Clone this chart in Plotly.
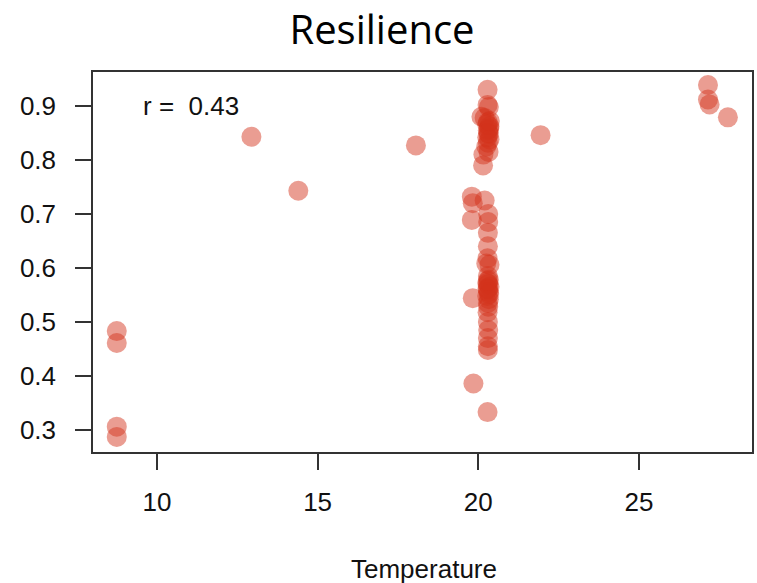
import plotly.graph_objects as go

# Data
temperature = [
    8.75, 8.75, 8.75, 8.75,
    12.94, 14.40, 18.06, 21.94,
    27.15, 27.15, 27.20, 27.77,
    20.29, 20.29, 20.33, 20.10, 20.20, 20.30, 20.35, 20.30, 20.33, 20.28, 20.35, 20.30, 20.25, 20.16, 20.32, 20.15,
    20.28, 20.34, 20.31, 20.36,
    19.80, 19.83, 20.20, 19.80, 20.31, 20.31, 20.30, 20.30, 20.29, 20.25, 20.35,
    19.83, 20.30, 20.33, 20.28, 20.35, 20.30, 20.32, 20.28, 20.33, 20.30, 20.31, 20.29, 20.30, 20.31, 20.30, 20.30, 20.30,
    20.31, 20.29, 20.34, 20.30,
    19.85, 20.29,
]
resilience = [
    0.483, 0.461, 0.306, 0.287,
    0.843, 0.743, 0.827, 0.846,
    0.939, 0.912, 0.903, 0.879,
    0.930, 0.902, 0.898, 0.880, 0.878, 0.870, 0.862, 0.855, 0.848, 0.842, 0.838, 0.832, 0.825, 0.810, 0.815, 0.790,
    0.866, 0.858, 0.850, 0.872,
    0.732, 0.720, 0.725, 0.689, 0.700, 0.685, 0.665, 0.640, 0.618, 0.608, 0.606,
    0.544, 0.585, 0.578, 0.572, 0.565, 0.560, 0.555, 0.548, 0.542, 0.535, 0.528, 0.518, 0.500, 0.485, 0.470, 0.455, 0.448,
    0.570, 0.562, 0.552, 0.576,
    0.386, 0.333,
]
x_ticks = [10, 15, 20, 25]
y_ticks = [0.3, 0.4, 0.5, 0.6, 0.7, 0.8, 0.9]
r_label = "r =\u00a0\u00a00.43"

W, H = 757, 583
ml, mr, mt, mb = 93, 3, 72, 131

fig = go.Figure()
fig.add_trace(go.Scatter(
    x=temperature, y=resilience, mode="markers",
    marker=dict(size=20, color="rgba(212,50,28,0.48)", line=dict(width=0)),
    showlegend=False, hoverinfo="skip",
))

axis_font = dict(family="Liberation Sans, Arial, sans-serif", size=26, color="#111")
common = dict(showgrid=False, zeroline=False, showline=True, mirror=True,
              linecolor="#333", linewidth=1.5, ticks="outside", ticklen=16,
              tickwidth=1.5, tickcolor="#333", tickfont=axis_font)

fig.update_xaxes(range=[8.01, 28.52], tickvals=x_ticks, ticklabelstandoff=10, **common)
fig.update_yaxes(range=[0.259, 0.963], tickvals=y_ticks, ticktext=[f"{v:.1f}" for v in y_ticks],
                 ticklabelstandoff=14, **common)

fig.add_annotation(x=9.5, y=0.9, xref="x", yref="y", text=r_label, showarrow=False,
                   xanchor="left", yanchor="middle", font=axis_font)
fig.add_annotation(x=(425 - ml) / (W - ml - mr), y=0, xref="paper", yref="paper",
                   yshift=-117, text="Temperature", showarrow=False,
                   xanchor="center", yanchor="middle", font=axis_font)

fig.update_layout(
    width=W, height=H,
    margin=dict(l=ml, r=mr, t=mt, b=mb),
    paper_bgcolor="white", plot_bgcolor="white",
    title=dict(text="Resilience", x=382 / W, y=1 - 30 / H, xref="container", yref="container",
               xanchor="center", yanchor="middle",
               font=dict(family="Open Sans, sans-serif", size=40, color="#000")),
)

fig.write_html("out.html")
